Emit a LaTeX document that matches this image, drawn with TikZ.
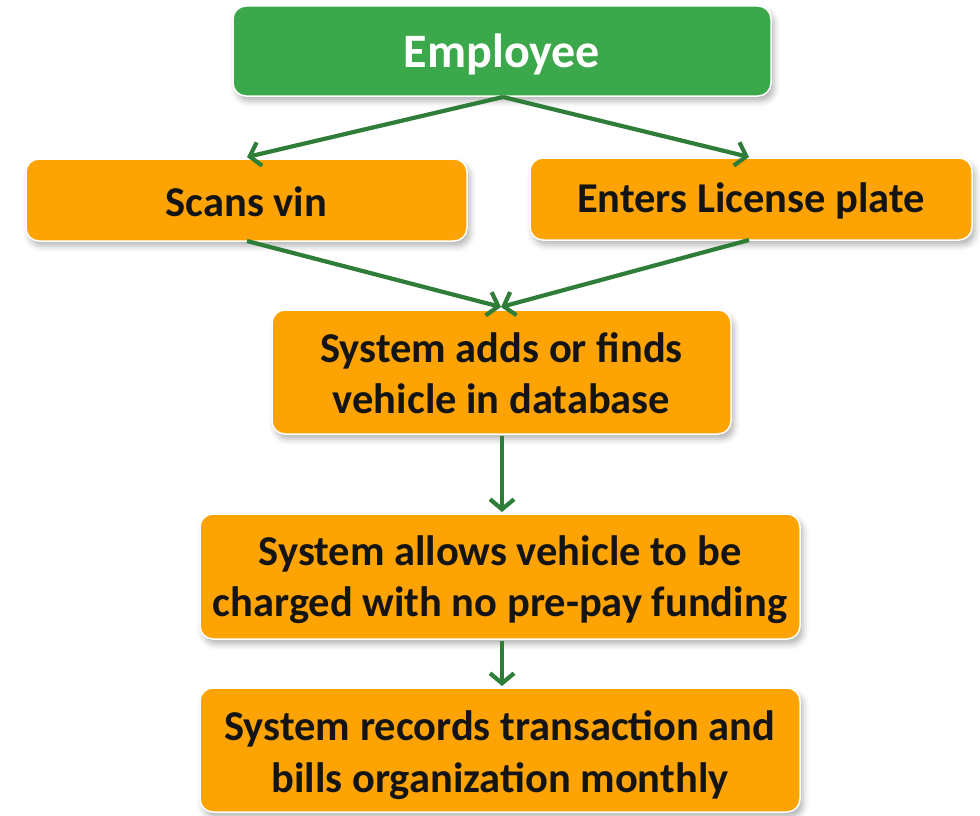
\documentclass[tikz,border=0pt]{standalone}
\usepackage{fontspec}
\setmainfont{Carlito}
\usetikzlibrary{arrows.meta,shadows.blur}
\definecolor{boxgreen}{RGB}{59,168,76}
\definecolor{boxorange}{RGB}{253,163,3}
\definecolor{arrowgreen}{RGB}{46,125,56}
\definecolor{textdark}{RGB}{20,20,20}
\tikzset{
  box/.style={draw=white, line width=1.5pt, rounded corners=13pt, inner sep=0pt,
    blur shadow={shadow xshift=3pt, shadow yshift=-5pt, shadow blur radius=6pt, shadow opacity=30}},
  obox/.style={box, fill=boxorange},
  gbox/.style={box, fill=boxgreen},
  otxt/.style={align=center, inner sep=0pt, text=textdark, font=\fontsize{42.5}{51.5}\selectfont\bfseries},
  gtxt/.style={align=center, inner sep=0pt, text=white, font=\fontsize{48}{56}\selectfont\bfseries},
  conn/.style={draw=arrowgreen, line width=4.2pt, -{Straight Barb[length=10pt,width=24pt,line width=4.2pt]}}
}
\begin{document}
\begin{tikzpicture}[x=1pt,y=-1pt]
\useasboundingbox (0,0) rectangle (980,816);
\node[gbox, minimum width=538pt, minimum height=90pt] (emp) at (502,51) {};
\node[obox, minimum width=441pt, minimum height=82pt] (scan) at (246.5,200) {};
\node[obox, minimum width=442pt, minimum height=82pt] (lic) at (751,199) {};
\node[obox, minimum width=459pt, minimum height=124pt] (adds) at (501.5,372) {};
\node[obox, minimum width=600pt, minimum height=125pt] (allow) at (500,576.5) {};
\node[obox, minimum width=600pt, minimum height=124pt] (rec) at (500,750) {};
\node[gtxt] (empT) at ([yshift=-3pt]emp.center) {Employee};
\node[otxt] (scanT) at ([yshift=-2pt]scan.center) {Scans vin};
\node[otxt] (licT) at ([yshift=-2pt]lic.center) {Enters License plate};
\node[otxt] (addsT) at ([yshift=-1pt]adds.center) {System adds or finds\\vehicle in database};
\node[otxt] (allowT) at ([yshift=-3pt]allow.center) {System allows vehicle to be\\charged with no pre-pay funding};
\node[otxt] (recT) at ([yshift=-5pt]rec.center) {System records transaction and\\bills organization monthly};
\coordinate (empb) at (503,97);
\coordinate (scant) at (247,157);
\coordinate (lict) at (749,157);
\coordinate (scanb) at (247,241);
\coordinate (licb) at (749,240);
\coordinate (addst) at (501,307);
\coordinate (addsb) at (502,436);
\coordinate (allowt) at (502,512);
\coordinate (allowb) at (502,641);
\coordinate (rect) at (502,686);
\draw[conn] (empb) -- (scant);
\draw[conn] (empb) -- (lict);
\draw[conn] (scanb) -- (addst);
\draw[conn] (licb) -- (addst);
\draw[conn] (addsb) -- (allowt);
\draw[conn] (allowb) -- (rect);
\end{tikzpicture}
\end{document}
